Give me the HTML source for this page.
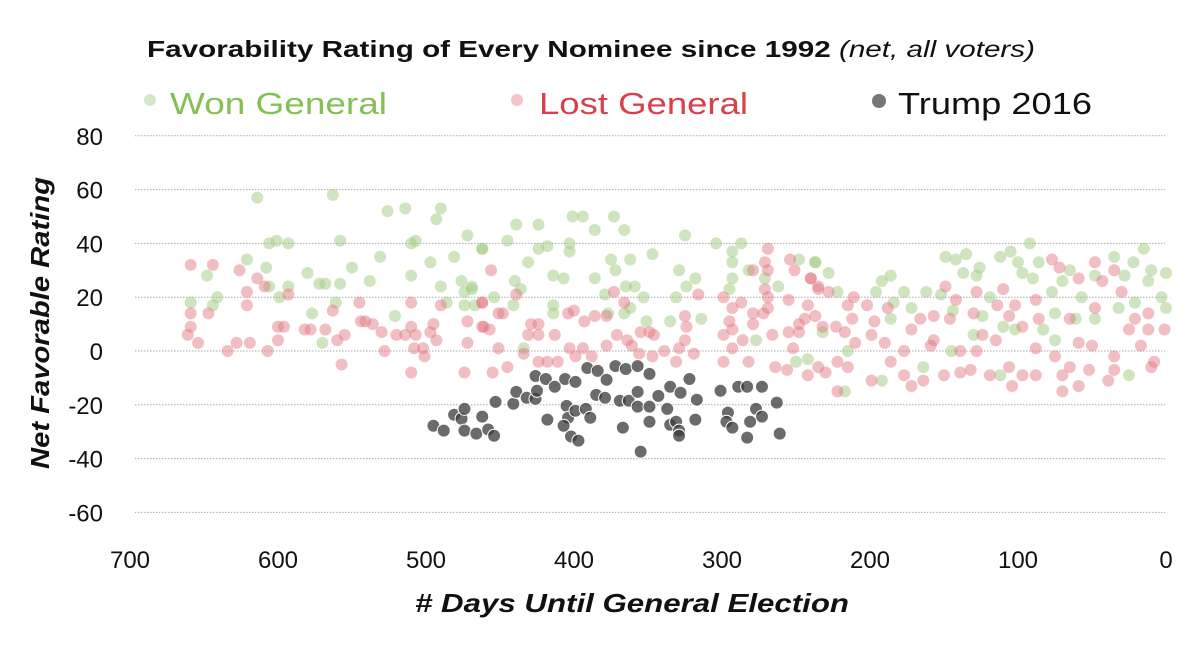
<!DOCTYPE html>
<html><head><meta charset="utf-8"><style>
html,body{margin:0;padding:0;background:#fff;}
svg{display:block;font-family:"Liberation Sans",sans-serif;}
</style></head><body>
<svg id="chart" width="1201" height="650" viewBox="0 0 1201 650" xmlns="http://www.w3.org/2000/svg">
<text x="147" y="57" font-size="23" font-weight="bold" fill="#111" textLength="888" lengthAdjust="spacingAndGlyphs">Favorability Rating of Every Nominee since 1992 <tspan font-weight="normal" font-style="italic">(net, all voters)</tspan></text>
<g>
<circle cx="150" cy="100" r="6" fill="#a9d18e" opacity="0.5"/>
<text x="170" y="114" font-size="31" fill="#84c155" textLength="217" lengthAdjust="spacingAndGlyphs">Won General</text>
<circle cx="517" cy="100" r="6" fill="#e06c75" opacity="0.4"/>
<text x="539" y="114" font-size="31" fill="#d8404a" textLength="209" lengthAdjust="spacingAndGlyphs">Lost General</text>
<circle cx="879" cy="101" r="7" fill="#555" opacity="0.8"/>
<text x="898" y="114" font-size="31" fill="#111" textLength="194" lengthAdjust="spacingAndGlyphs">Trump 2016</text>
</g>
<g id="grid"></g><g id="yticks"></g><g id="xticks"></g>
<g id="won"></g><g id="lost"></g><g id="trump"></g>
<text transform="translate(49,323) rotate(-90)" text-anchor="middle" font-size="26" font-weight="bold" font-style="italic" fill="#111" textLength="292" lengthAdjust="spacingAndGlyphs">Net Favorable Rating</text>
<text x="632" y="612" text-anchor="middle" font-size="26" font-weight="bold" font-style="italic" fill="#111" textLength="434" lengthAdjust="spacingAndGlyphs"># Days Until General Election</text>
</svg>
<script>
var yTicks=[80,60,40,20,0,-20,-40,-60];
var xTicks=[700,600,500,400,300,200,100,0];
var wonDays=[614,563,526,514,490,493,606,601,593,558,510,507,472,462,621,608,648,580,550,531,497,481,572,568,558,538,510,476,490,474,469,593,606,641,659,644,599,561,486,474,467,577,521,570,
439,424,401,394,373,386,366,325,445,462,424,418,403,403,304,287,293,293,431,375,362,347,372,329,414,407,386,318,293,440,436,469,324,365,359,379,353,331,295,454,441,414,414,366,362,377,351,335,314,271,262,282,248,237,277,434,250,
92,15,149,135,142,126,112,105,100,86,35,22,237,228,192,186,137,128,97,90,65,48,28,10,0,12,70,222,196,177,162,152,119,77,57,3,184,172,144,124,110,83,75,48,32,21,0,186,232,130,102,61,75,242,215,145,112,25,192,217,164];
var wonVals=[57,58,52,53,53,49,40,41,40,41,40,41,43,38,34,31,28,29,31,35,33,35,25,25,25,26,28,26,24,22,23,24,24,20,18,17,20,18,18,17,17,14,13,3,
47,47,50,50,50,45,45,43,41,38,38,39,40,37,40,40,37,33,33,34,34,36,30,30,28,27,27,27,27,26,23,24,24,24,24,21,20,20,23,20,17,17,14,14,16,14,11,11,12,27,24,30,34,33,4,1,-4,
40,38,35,36,34,31,35,37,33,33,35,33,33,29,26,28,29,28,29,27,30,28,28,30,29,26,26,22,22,22,22,21,20,22,20,20,18,16,15,13,9,8,14,12,16,18,16,12,7,6,8,12,4,-3,0,0,-9,-9,-11,-15,-6];
var lostDays=[659,644,626,614,609,621,593,621,659,647,659,661,654,634,628,619,607,600,600,596,582,578,568,563,560,555,557,545,544,541,536,530,528,520,514,510,510,507,508,502,501,497,495,493,490,510,472,472,474,462,462,
456,462,439,451,448,461,457,429,424,431,424,413,404,400,393,386,378,373,366,451,434,424,418,411,403,399,394,388,445,455,378,371,364,361,355,349,346,356,347,339,329,325,319,325,324,331,316,269,271,269,279,254,251,299,293,287,271,269,269,279,272,279,295,293,286,299,266,255,248,252,248,242,237,235,240,255,299,282,293,264,256,
240,235,228,215,211,244,232,223,212,202,188,197,217,210,199,190,177,172,166,157,157,146,142,149,159,139,130,128,124,115,110,114,106,102,97,88,86,88,77,72,59,48,35,43,30,65,59,50,35,25,12,1,17,8,12,21,75,65,52,39,70,88,97,106,119,132,139,150,164,177,186,199,215,222,230,235,242,222,172,104,70,10,59,128,48,35];
var lostVals=[32,32,30,27,24,22,21,17,14,14,9,6,3,0,3,3,0,4,9,9,8,8,8,15,4,6,-5,18,11,11,10,7,0,6,6,9,18,6,1,1,-2,7,10,4,17,-8,11,3,-8,9,18,
30,18,21,14,14,9,8,10,10,6,6,6,14,15,11,13,13,22,18,1,-1,-4,-4,-4,1,-2,1,-2,-6,-8,2,6,4,2,7,7,6,-1,-2,0,1,4,-1,13,9,-4,21,38,33,30,30,34,30,20,16,18,23,20,16,14,14,10,11,8,4,6,6,7,7,1,10,17,13,24,27,19,-4,-4,1,-6,-7,
27,23,22,17,20,12,9,9,12,17,16,11,7,3,6,3,0,8,12,13,4,12,19,24,2,0,14,0,6,4,23,17,13,17,9,19,12,1,34,31,27,33,30,26,22,12,3,2,-2,8,8,8,2,-4,14,12,-2,-6,-7,-11,-9,-9,-9,-6,-9,-7,-8,-9,-11,-9,-4,-11,-6,-4,-8,-6,-9,-15,-13,-13,-15,-6,-13,22,16,-7];
var trumpDays=[495,488,481,476,474,474,466,462,458,454,453,441,439,432,426,425,426,419,413,406,399,418,405,404,399,392,389,407,402,397,391,384,378,385,379,372,365,357,349,369,363,357,357,349,343,337,349,367,355,335,328,322,317,318,335,331,329,329,301,289,283,273,296,297,293,277,273,281,283,261,263];
var trumpVals=[-27.8,-29.6,-23.7,-25.2,-21.5,-29.6,-30.7,-24.4,-29.2,-31.5,-18.9,-19.6,-15.2,-17.4,-17.8,-14.8,-9.3,-10.4,-13.3,-10.4,-11.5,-25.5,-20.4,-24.8,-22.2,-21.5,-24.8,-27.8,-31.8,-33.3,-6.3,-7.4,-10.7,-16.3,-17.4,-5.6,-6.7,-5.6,-8.5,-18.5,-18.5,-15.2,-20.7,-20.7,-16.7,-21.5,-26.3,-28.5,-37.4,-13.3,-15.5,-10.4,-18.1,-25.5,-27.4,-26.3,-29.6,-31.5,-14.8,-13.3,-13.3,-13.3,-22.9,-26.3,-28.5,-21.5,-24.4,-26.3,-32.2,-30.7,-19.2];

var NS="http://www.w3.org/2000/svg";
function xScale(d){return 1166-d*1.48;}
function yScale(v){return 351-v*2.69;}
function mk(tag,attrs,parent){var e=document.createElementNS(NS,tag);for(var k in attrs)e.setAttribute(k,attrs[k]);document.getElementById(parent).appendChild(e);return e;}
yTicks.forEach(function(t){
  var l=mk('line',{x1:135,x2:1165,y1:yScale(t),y2:yScale(t),stroke:'#aaa','stroke-width':1,'stroke-dasharray':'1.5 1.5'},'grid');
  
  
  var tx=mk('text',{x:103,y:yScale(t)+9,'text-anchor':'end','font-size':24,fill:'#111'},'yticks');
  tx.textContent=t;
  
  
});
xTicks.forEach(function(t){
  var tx=mk('text',{x:xScale(t),y:568,'text-anchor':'middle','font-size':24,fill:'#111'},'xticks');
  tx.textContent=t;
  
  
});
function series(days,vals,g,fill,op,stroke,r,name){
  for(var i=0;i<days.length;i++){
    var c=mk('circle',{cx:xScale(days[i]),cy:yScale(vals[i]),r:r,fill:fill,'fill-opacity':op,stroke:stroke,'stroke-width':stroke=='none'?0:1},g);
    
    
  }
}
series(wonDays,wonVals,'won','#9fcc82',0.5,'none',6,'won-point');
series(lostDays,lostVals,'lost','#e0707a',0.45,'none',6,'lost-point');
series(trumpDays,trumpVals,'trump','#3a3a3a',0.75,'#ffffff',6.5,'trump-point');
</script>
</body></html>
